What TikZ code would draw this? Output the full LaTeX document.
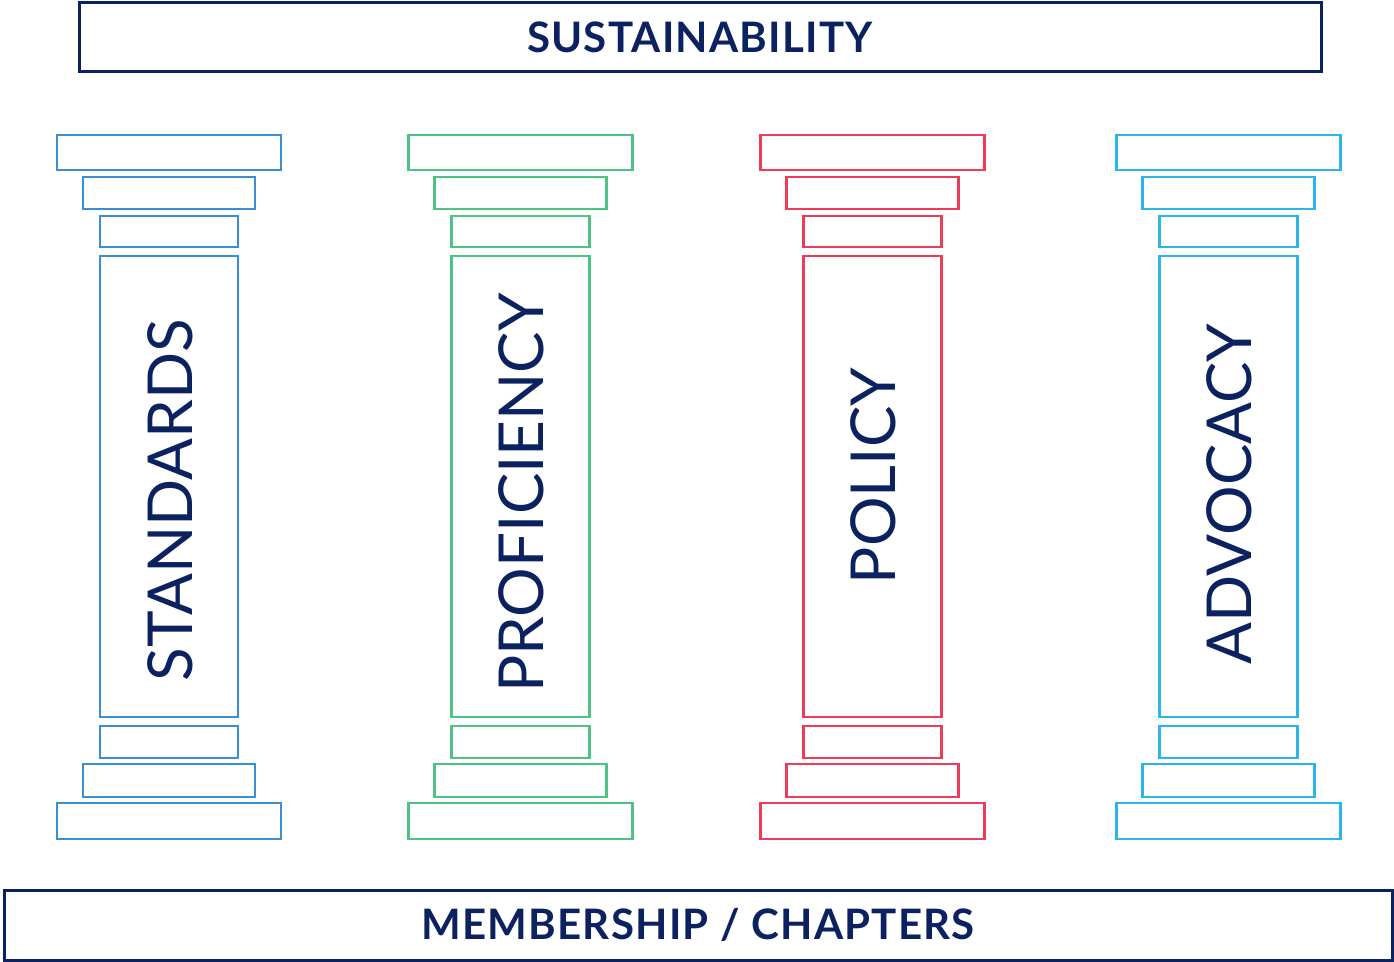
\documentclass[tikz,border=0pt]{standalone}
\usepackage{fontspec}
\setmainfont{Lato}
\usetikzlibrary{positioning}
\definecolor{navy}{HTML}{0C2260}
\definecolor{pblue}{HTML}{3A8ED3}
\definecolor{pgreen}{HTML}{4EC484}
\definecolor{pred}{HTML}{EE3B57}
\definecolor{pcyan}{HTML}{2BB6EA}

\begin{document}
\begin{tikzpicture}[x=0.5pt,y=-0.5pt,
    banner/.style={draw=navy,line width=1.5pt,text=navy,font=\fontsize{21}{24}\selectfont\bfseries\addfontfeatures{LetterSpace=3},inner sep=0pt},
    slab/.style={line width=1.3pt},
    word/.style={rotate=90,text=navy,font=\fontsize{31}{36}\selectfont,inner sep=0pt}]
        \useasboundingbox (0,0) rectangle (1394,962);
        % Roof and floor
        \node[banner,minimum width=621pt,minimum height=34.5pt] (roof) at (700,37.5) {SUSTAINABILITY};
        \node[banner,minimum width=694pt,minimum height=35pt] (floor) at (698,925) {MEMBERSHIP / CHAPTERS};
        % Pillars
        \foreach \cx/\col/\word/\ty/\nm in {169/pblue/STANDARDS/500/standards,
                520.5/pgreen/PROFICIENCY/493/proficiency,
                872.5/pred/POLICY/476/policy,
                1228.5/pcyan/ADVOCACY/494/advocacy} {
            \begin{scope}[draw=\col]
            % capital
            \draw[slab] ({\cx-112},135) rectangle ({\cx+112},170);
            \draw[slab] ({\cx-86},177) rectangle ({\cx+86},209);
            \draw[slab] ({\cx-69},216) rectangle ({\cx+69},247);
            % shaft
            \draw[slab] ({\cx-69},256) rectangle ({\cx+69},717);
            % base
            \draw[slab] ({\cx-69},726) rectangle ({\cx+69},758);
            \draw[slab] ({\cx-86},764) rectangle ({\cx+86},797);
            \draw[slab] ({\cx-112},803) rectangle ({\cx+112},839);
            \end{scope}
            \node[word] (\nm) at ({\cx+1},\ty) {\word};
        }
    \end{tikzpicture}
\end{document}
